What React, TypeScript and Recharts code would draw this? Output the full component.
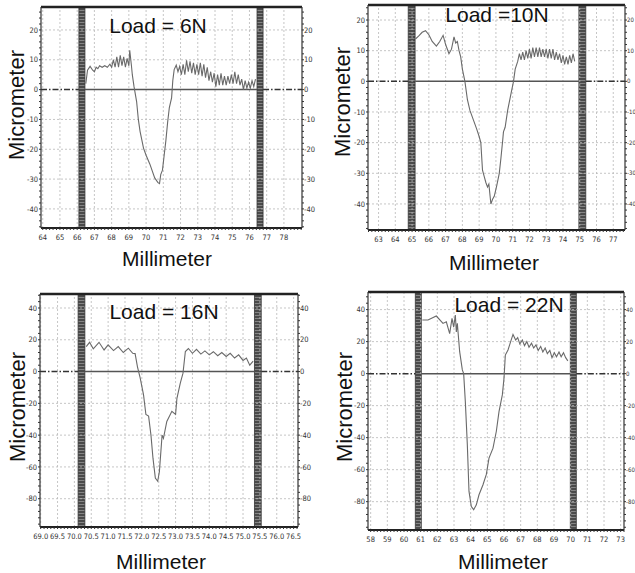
import React from 'react';
import { LineChart, Line, XAxis, YAxis, ReferenceArea, ReferenceLine } from 'recharts';

// ---------- Panel 1 : Load = 6N ----------
const p1Curve: [number, number][] = [
  [66.5, 2], [66.6, 6.5], [66.75, 7.8], [66.9, 6.5], [67.0, 6], [67.1, 7.5], [67.2, 7], [67.3, 8],
  [67.45, 7.5], [67.6, 8], [67.75, 7.5], [67.9, 8.5], [68.0, 7.5], [68.1, 10], [68.2, 7.5], [68.3, 11],
  [68.4, 7.5], [68.5, 11.5], [68.6, 8], [68.7, 11], [68.8, 7.5], [68.9, 10.5], [69.0, 8], [69.05, 13.2],
  [69.15, 8], [69.2, 5], [69.3, 1], [69.45, -4], [69.55, -10], [69.65, -14], [69.85, -19.6], [70.0, -22],
  [70.22, -25], [70.5, -29.6], [70.69, -31.2], [70.78, -31.5], [70.85, -28.5], [70.95, -27], [71.05, -22],
  [71.15, -17], [71.25, -11], [71.35, -6], [71.48, -2.8], [71.55, 3], [71.63, 6.7], [71.75, 8.2],
  [71.85, 6], [71.95, 7.8], [72.05, 5], [72.15, 8.5], [72.25, 5], [72.35, 9.8], [72.45, 6], [72.55, 9.5],
  [72.65, 5.5], [72.75, 9], [72.85, 5], [72.95, 8.5], [73.05, 5], [73.15, 9], [73.25, 4.5], [73.35, 8.5],
  [73.45, 4], [73.55, 7.5], [73.65, 3], [73.75, 6], [73.85, 2.5], [73.95, 5.5], [74.05, 1], [74.15, 5],
  [74.25, 1.5], [74.35, 5.5], [74.45, 1.5], [74.55, 4.5], [74.65, 1.5], [74.75, 4.5], [74.85, 2],
  [74.95, 5], [75.05, 2], [75.15, 6], [75.25, 2], [75.35, 5], [75.45, 1.5], [75.55, 3.5], [75.65, 0],
  [75.75, 3], [75.85, 0.5], [75.95, 2.5], [76.05, 0.5], [76.15, 3], [76.25, 1], [76.35, 3.5],
];
const p1XTicks = [64, 65, 66, 67, 68, 69, 70, 71, 72, 73, 74, 75, 76, 77, 78];
const p1YTicks = [20, 10, 0, -10, -20, -30, -40];
const p1Bands: [number, number][] = [[66.1, 66.45], [76.44, 76.79]];
const p1Title = 'Load = 6N';

// ---------- Panel 2 : Load = 10N ----------
const p2Curve: [number, number][] = [
  [65.2, 13.8], [65.4, 14.8], [65.6, 16], [65.8, 16.5], [66.0, 15.2], [66.2, 13], [66.45, 11.5],
  [66.65, 13], [66.85, 15], [67.0, 12], [67.2, 9], [67.35, 10.5], [67.5, 14.5], [67.6, 12.5], [67.7, 13],
  [67.8, 10], [67.9, 8], [68.0, 4], [68.15, 0], [68.3, -6], [68.45, -9.5], [68.65, -12.5], [68.85, -15.5],
  [69.0, -18], [69.1, -20], [69.2, -29], [69.3, -31], [69.4, -33], [69.5, -34.5], [69.58, -33.5],
  [69.7, -40], [69.8, -38.5], [69.9, -37.5], [70.05, -34], [70.2, -30], [70.3, -25], [70.4, -19.5],
  [70.45, -16.5], [70.55, -15], [70.7, -9.5], [70.9, -4], [71.05, 0], [71.15, 4], [71.3, 6.5],
  [71.4, 9], [71.5, 7], [71.6, 9.5], [71.7, 7], [71.8, 10], [71.9, 7.5], [72.0, 10.5], [72.1, 7.5],
  [72.2, 11], [72.3, 8], [72.4, 11], [72.5, 8], [72.6, 11], [72.7, 8], [72.8, 10.5], [72.9, 8],
  [73.0, 10.5], [73.1, 7.5], [73.2, 10.5], [73.3, 7.5], [73.4, 10.5], [73.5, 7], [73.6, 9.5], [73.7, 7],
  [73.8, 9], [73.9, 6], [74.0, 8.5], [74.1, 5.5], [74.2, 8], [74.3, 5.5], [74.4, 8.5], [74.5, 6],
  [74.6, 9], [74.7, 6.5],
];
const p2XTicks = [63, 64, 65, 66, 67, 68, 69, 70, 71, 72, 73, 74, 75, 76, 77];
const p2YTicks = [20, 10, 0, -10, -20, -30, -40];
const p2Bands: [number, number][] = [[64.77, 65.18], [74.95, 75.36]];
const p2Title = 'Load =10N';

// ---------- Panel 3 : Load = 16N ----------
const p3Curve: [number, number][] = [
  [70.35, 15.7], [70.45, 18.4], [70.56, 14.3], [70.73, 18.4], [70.88, 13.6], [71.0, 16.8], [71.16, 13.2],
  [71.3, 15.7], [71.45, 12], [71.6, 14.7], [71.73, 11.5], [71.8, 11.3], [71.87, 3], [71.95, -4],
  [72.05, -14.7], [72.12, -27], [72.2, -28], [72.27, -40], [72.33, -54.5], [72.4, -67], [72.47, -69],
  [72.52, -63], [72.6, -40], [72.64, -42], [72.74, -31.4], [72.89, -25], [73.0, -27], [73.04, -16.8],
  [73.14, -7.3], [73.22, -1], [73.29, 12.6], [73.38, 14.5], [73.5, 11.5], [73.62, 14], [73.75, 11],
  [73.87, 13], [74.0, 10.5], [74.12, 12.5], [74.25, 10], [74.37, 12], [74.5, 9.5], [74.62, 11.5],
  [74.75, 8.5], [74.87, 10.5], [75.0, 7], [75.1, 8.5], [75.2, 4], [75.3, 6.5],
];
const p3XTicks = [69.0, 69.5, 70.0, 70.5, 71.0, 71.5, 72.0, 72.5, 73.0, 73.5, 74.0, 74.5, 75.0, 75.5, 76.0, 76.5];
const p3YTicks = [40, 20, 0, -20, -40, -60, -80];
const p3Bands: [number, number][] = [[70.11, 70.31], [75.34, 75.54]];
const p3Title = 'Load = 16N';

// ---------- Panel 4 : Load = 22N ----------
const p4Curve: [number, number][] = [
  [61.1, 33.5], [61.44, 33.5], [61.94, 36], [62.34, 31.4], [62.54, 32.4], [62.74, 25], [62.88, 34.5],
  [62.98, 29], [63.08, 36.6], [63.14, 26], [63.2, 31.4], [63.34, 13.7], [63.5, 2.3], [63.58, 0],
  [63.68, -17.5], [63.8, -44.5], [63.9, -73.6], [64.04, -83], [64.18, -85], [64.34, -82], [64.5, -75.7],
  [64.74, -69.4], [64.94, -63], [65.1, -52.8], [65.34, -46.6], [65.54, -36], [65.7, -23.7], [65.9, -13.3],
  [66.0, -3], [66.08, 11.6], [66.24, 14.8], [66.4, 20], [66.54, 24.5], [66.7, 21], [66.82, 22.5],
  [66.95, 18.5], [67.1, 21], [67.23, 17.5], [67.37, 20], [67.5, 16.5], [67.65, 19], [67.78, 16],
  [67.92, 18], [68.05, 14.5], [68.2, 17], [68.33, 13.5], [68.47, 16], [68.6, 12.5], [68.75, 14.5],
  [68.88, 10], [69.02, 13], [69.15, 10.5], [69.3, 13.5], [69.43, 10.5], [69.57, 13], [69.7, 10], [69.83, 8],
];
const p4XTicks = [58, 59, 60, 61, 62, 63, 64, 65, 66, 67, 68, 69, 70, 71, 72, 73];
const p4YTicks = [40, 20, 0, -20, -40, -60, -80];
const p4Bands: [number, number][] = [[60.68, 61.04], [69.98, 70.34]];
const p4Title = 'Load = 22N';

const xLabel = 'Millimeter';
const yLabel = 'Micrometer';

// ---------- helpers ----------
function steps(a: number, b: number, s: number): number[] {
  const out: number[] = [];
  const n = Math.round((b - a) / s);
  for (let i = 0; i <= n; i++) out.push(+(a + i * s).toFixed(4));
  return out;
}
const isMajor = (v: number, majors: number[]) => majors.some((m) => Math.abs(m - v) < 1e-6);

const TICK_FONT = "'Liberation Sans Narrow', 'DejaVu Sans Condensed', 'Liberation Sans', sans-serif";
const TITLE_FONT = "'Liberation Sans', Arial, sans-serif";

const MajorTick = (props: any) => {
  const { x, y, payload, textAnchor, majors, fmt, dy, size } = props;
  if (!isMajor(payload.value, majors)) return null;
  return (
    <text x={x} y={y} dy={dy} textAnchor={textAnchor} fontSize={size || 7.5} fontFamily={TICK_FONT} fill="#333">
      {fmt ? fmt(payload.value) : payload.value}
    </text>
  );
};

const LEFT_W = 40;
const RIGHT_W = 24;
const TOP_M = 6;
const XAX_H = 16;

type PanelCfg = {
  id: string;
  curve: [number, number][];
  xTicks: number[];
  yTicks: number[];
  bands: [number, number][];
  xDomain: [number, number];
  yDomain: [number, number];
  xMinor: number;
  yMinor: number;
  plot: { x: number; y: number; w: number; h: number };
  rightSize: number;
  fmt?: (v: number) => string;
};

const panels: PanelCfg[] = [
  { id: 'p1', curve: p1Curve, xTicks: p1XTicks, yTicks: p1YTicks, bands: p1Bands, xDomain: [63.9, 79.05], yDomain: [-46.4, 27.7], xMinor: 0.2, yMinor: 2, plot: { x: 41, y: 7, w: 261, h: 221 }, rightSize: 7.5 },
  { id: 'p2', curve: p2Curve, xTicks: p2XTicks, yTicks: p2YTicks, bands: p2Bands, xDomain: [62.37, 77.7], yDomain: [-48.5, 24.9], xMinor: 0.2, yMinor: 2, plot: { x: 368, y: 5, w: 257, h: 225 }, rightSize: 6 },
  { id: 'p3', curve: p3Curve, xTicks: p3XTicks, yTicks: p3YTicks, bands: p3Bands, xDomain: [68.98, 76.63], yDomain: [-97.8, 48.8], xMinor: 0.1, yMinor: 4, plot: { x: 40, y: 294, w: 258, h: 233 }, rightSize: 7.5, fmt: (v) => v.toFixed(1) },
  { id: 'p4', curve: p4Curve, xTicks: p4XTicks, yTicks: p4YTicks, bands: p4Bands, xDomain: [57.84, 73.2], yDomain: [-97.7, 51], xMinor: 0.2, yMinor: 4, plot: { x: 368, y: 292, w: 256, h: 238 }, rightSize: 6 },
];

const GRID = { stroke: '#b8b8b8', strokeDasharray: '2 2', strokeWidth: 0.8 };

const Panel = ({ cfg }: { cfg: PanelCfg }) => {
  const data = cfg.curve.map(([x, y]) => ({ x, y }));
  const xAll = steps(
    Math.ceil(cfg.xDomain[0] / cfg.xMinor - 1e-6) * cfg.xMinor,
    Math.floor(cfg.xDomain[1] / cfg.xMinor + 1e-6) * cfg.xMinor,
    cfg.xMinor,
  );
  const yAll = steps(
    Math.ceil(cfg.yDomain[0] / cfg.yMinor) * cfg.yMinor,
    Math.floor(cfg.yDomain[1] / cfg.yMinor) * cfg.yMinor,
    cfg.yMinor,
  );
  const width = cfg.plot.w + LEFT_W + RIGHT_W;
  const height = cfg.plot.h + TOP_M + XAX_H;
  const [b0, b1] = cfg.bands;
  const dash = '6 2 1.5 2';
  return (
    <div style={{ position: 'absolute', left: cfg.plot.x - LEFT_W, top: cfg.plot.y - TOP_M, width, height }}>
      <LineChart width={width} height={height} data={data} margin={{ top: TOP_M, right: 0, bottom: 0, left: 0 }}>
        <defs>
          <pattern id={`hatch-${cfg.id}`} width="4" height="3" patternUnits="userSpaceOnUse">
            <rect width="4" height="3" fill="#4a4a4a" />
            <line x1="0" y1="0.5" x2="4" y2="0.5" stroke="#858585" strokeWidth="1" />
          </pattern>
        </defs>
        <XAxis
          type="number"
          dataKey="x"
          domain={cfg.xDomain}
          allowDataOverflow
          ticks={xAll}
          interval={0}
          height={XAX_H}
          tickSize={2}
          tickMargin={5}
          axisLine={{ stroke: '#222', strokeWidth: 2 }}
          tickLine={{ stroke: '#333' }}
          tick={<MajorTick majors={cfg.xTicks} fmt={cfg.fmt} dy="0.71em" />}
        />
        <YAxis
          yAxisId="l"
          type="number"
          domain={cfg.yDomain}
          allowDataOverflow
          ticks={yAll}
          interval={0}
          width={LEFT_W}
          tickSize={2}
          tickMargin={1}
          axisLine={{ stroke: '#333', strokeWidth: 1.2 }}
          tickLine={{ stroke: '#333' }}
          tick={<MajorTick majors={cfg.yTicks} dy="0.355em" />}
        />
        <YAxis
          yAxisId="r"
          orientation="right"
          type="number"
          domain={cfg.yDomain}
          allowDataOverflow
          ticks={yAll}
          interval={0}
          width={RIGHT_W}
          tickSize={2}
          tickMargin={0}
          axisLine={{ stroke: '#333', strokeWidth: 1.2 }}
          tickLine={{ stroke: '#333' }}
          tick={<MajorTick majors={cfg.yTicks} dy="0.355em" size={cfg.rightSize} />}
        />
        {cfg.xTicks.map((v) => (
          <ReferenceLine key={`gx${v}`} yAxisId="l" x={v} {...GRID} />
        ))}
        {cfg.yTicks.filter((v) => v !== 0).map((v) => (
          <ReferenceLine key={`gy${v}`} yAxisId="l" y={v} {...GRID} />
        ))}
        <ReferenceLine yAxisId="l" segment={[{ x: cfg.xDomain[0], y: 0 }, { x: b0[0], y: 0 }]} stroke="#333" strokeWidth={1.5} strokeDasharray={dash} />
        <ReferenceLine yAxisId="l" segment={[{ x: b1[1], y: 0 }, { x: cfg.xDomain[1], y: 0 }]} stroke="#333" strokeWidth={1.5} strokeDasharray={dash} />
        <ReferenceLine yAxisId="l" segment={[{ x: b0[1], y: 0 }, { x: b1[0], y: 0 }]} stroke="#555" strokeWidth={1.5} />
        {cfg.bands.map((b, i) => (
          <ReferenceArea key={i} yAxisId="l" x1={b[0]} x2={b[1]} y1={cfg.yDomain[0]} y2={cfg.yDomain[1]} fill={`url(#hatch-${cfg.id})`} fillOpacity={1} stroke="#333" strokeWidth={0.8} />
        ))}
        <ReferenceLine yAxisId="l" y={cfg.yDomain[1]} stroke="#222" strokeWidth={2.5} />
        <Line yAxisId="l" type="linear" dataKey="y" stroke="#6a6a6a" strokeWidth={1.1} dot={false} isAnimationActive={false} />
      </LineChart>
    </div>
  );
};

const titles = [
  { text: p1Title, x: 158, y: 33 },
  { text: p2Title, x: 497, y: 22 },
  { text: p3Title, x: 164, y: 319 },
  { text: p4Title, x: 509, y: 312 },
];
const xLabels = [
  { x: 167, y: 266 },
  { x: 494, y: 270 },
  { x: 161, y: 569 },
  { x: 503, y: 569 },
];
const yLabels = [
  { x: 24, y: 105 },
  { x: 350, y: 102 },
  { x: 25, y: 407 },
  { x: 352, y: 407 },
];

export default function App() {
  return (
    <div style={{ position: 'absolute', left: 0, top: 0, width: 635, height: 573, overflow: 'hidden', background: '#fff' }}>
      {panels.map((p) => (
        <Panel key={p.id} cfg={p} />
      ))}
      <svg width={635} height={573} style={{ position: 'absolute', left: 0, top: 0, pointerEvents: 'none' }}>
        {titles.map((t, i) => (
          <text key={`t${i}`} x={t.x} y={t.y} textAnchor="middle" fontSize={21} fontFamily={TITLE_FONT} fill="#111">
            {t.text}
          </text>
        ))}
        {xLabels.map((t, i) => (
          <text key={`x${i}`} x={t.x} y={t.y} textAnchor="middle" fontSize={21} fontFamily={TITLE_FONT} fill="#111">
            {xLabel}
          </text>
        ))}
        {yLabels.map((t, i) => (
          <text key={`y${i}`} x={t.x} y={t.y} textAnchor="middle" fontSize={22} fontFamily={TITLE_FONT} fill="#111" transform={`rotate(-90 ${t.x} ${t.y})`}>
            {yLabel}
          </text>
        ))}
      </svg>
    </div>
  );
}
